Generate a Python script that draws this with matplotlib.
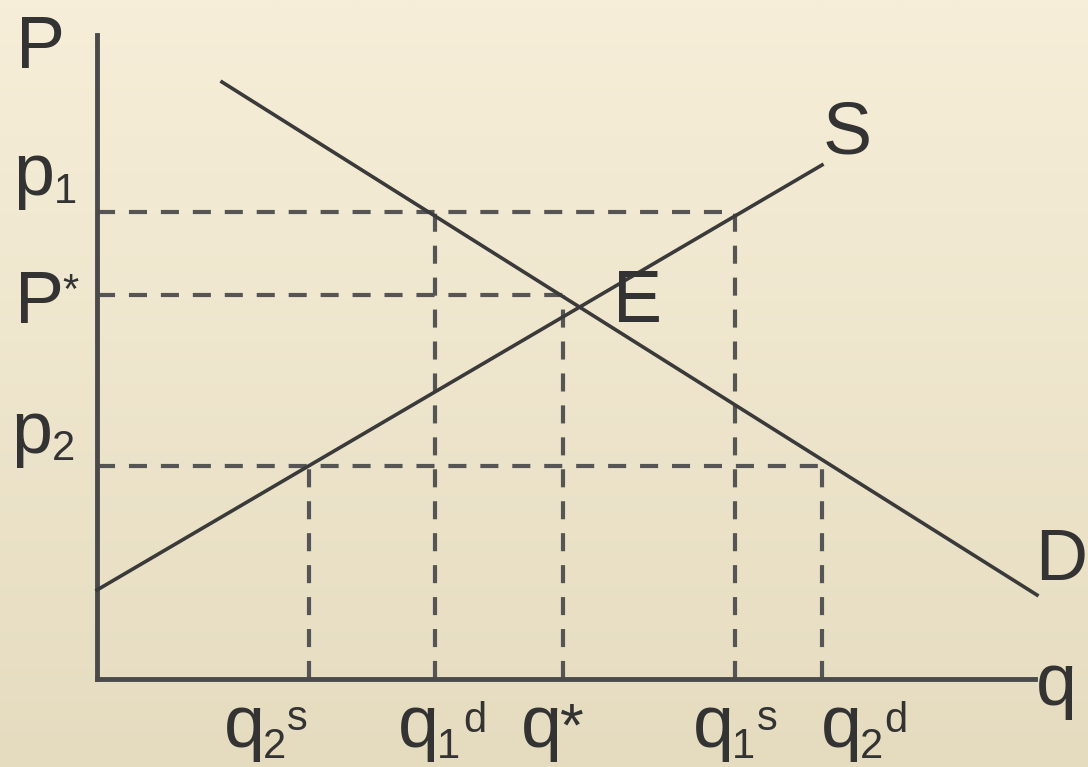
import numpy as np
import matplotlib.pyplot as plt

plt.rcParams['font.family'] = ['Liberation Sans', 'DejaVu Sans']
plt.rcParams['lines.scale_dashes'] = False

# price levels (p1, P*, p2) and quantities
prices = [4.67, 3.84, 2.13]
# quantity where each price line stops (q1s, q*, q2d)
price_ends = [6.38, 4.66, 7.25]

quantities = [2.12, 3.38, 4.66, 6.38, 7.25]
quantity_tops = [2.13, 4.67, 3.84, 4.67, 2.13]

demand_q = [1.25, 9.40]
demand_p = [5.97, 0.84]
supply_q = [0.0, 7.25]
supply_p = [0.89, 5.14]

W, H = 1088, 767
fig = plt.figure(figsize=(W / 100, H / 100), dpi=100)

# background gradient
bg = fig.add_axes([0, 0, 1, 1], zorder=0)
top = np.array([246, 238, 216]) / 255
bot = np.array([229, 220, 192]) / 255
t = np.linspace(0, 1, 256)[:, None, None]
grad = top * (1 - t) + bot * t
grad = np.repeat(grad, 2, axis=1)
bg.imshow(grad, aspect='auto', extent=[0, 1, 0, 1])
bg.axis('off')

x0, y0 = 97, 679
ax = fig.add_axes([x0 / W, (H - y0) / H, (1035 - x0) / W, (y0 - 35) / H], zorder=1)
ax.patch.set_alpha(0)
ax.set_xlim(0, 9.38)
ax.set_ylim(0, 6.44)
for s in ['top', 'right']:
    ax.spines[s].set_visible(False)
for s in ['left', 'bottom']:
    ax.spines[s].set_linewidth(3.5)
    ax.spines[s].set_color('#4a4a4a')
ax.set_xticks([])
ax.set_yticks([])

dash_kw = dict(color='#555555', lw=3, dashes=(13, 10), clip_on=False, zorder=2)
for p, qe in zip(prices, price_ends):
    ax.plot([0, qe], [p, p], **dash_kw)
for q, pt in zip(quantities, quantity_tops):
    ax.plot([q, q], [0, pt], **dash_kw)

ax.plot(demand_q, demand_p, color='#3a3a3a', lw=2.6, clip_on=False, zorder=3)
ax.plot(supply_q, supply_p, color='#3a3a3a', lw=2.6, clip_on=False, zorder=3)

fs = 53
small = 30
tc = '#333333'
renderer = fig.canvas.get_renderer()

def lab(px, py, s, size=fs):
    return ax.text((px - x0) / 100, (y0 - py) / 100, s, fontsize=size, color=tc,
                   ha='left', va='baseline')

def chain(px, py, parts):
    # parts: (text, size, baseline in px, gap in px)
    x = px
    for s, size, base, gap in parts:
        txt = lab(x + gap, base, s, size)
        x = txt.get_window_extent(renderer).x1

# axis / curve letters
lab(16, 68, 'P')
lab(823, 153, 'S')
lab(613, 322, 'E')
lab(1035, 580, 'D', 52)
lab(1036, 705, 'q')

# price labels
chain(13, 195, [('p', fs, 195, 0), ('1', small, 203, 0)])
chain(15, 323, [('P', fs, 323, 0), ('*', small, 303, -2)])
chain(11, 453, [('p', fs, 453, 0), ('2', small, 460, 0)])

# quantity labels
chain(224, 747, [('q', fs, 747, 0), ('2', small, 758, -2), ('s', small, 730, 1)])
chain(398, 747, [('q', fs, 747, 0), ('1', small, 758, -2), ('d', small, 732, 3)])
chain(521, 747, [('q', fs, 747, 0), ('*', 44, 745, -2)])
chain(693, 747, [('q', fs, 747, 0), ('1', small, 758, -2), ('s', small, 730, 2)])
chain(821, 747, [('q', fs, 747, 0), ('2', small, 758, -2), ('d', small, 732, 1)])

fig.savefig('out.png', dpi=100)
